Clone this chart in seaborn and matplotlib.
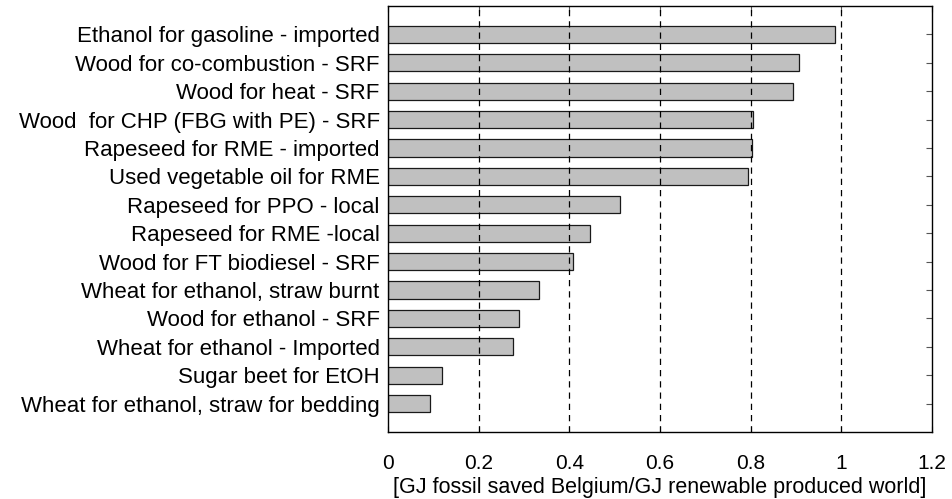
import matplotlib
matplotlib.use("Agg")
import matplotlib.pyplot as plt
import seaborn as sns
import pandas as pd

categories = [
    "Ethanol for gasoline - imported",
    "Wood for co-combustion - SRF",
    "Wood for heat - SRF",
    "Wood  for CHP (FBG with PE) - SRF",
    "Rapeseed for RME - imported",
    "Used vegetable oil for RME",
    "Rapeseed for PPO - local",
    "Rapeseed for RME -local",
    "Wood for FT biodiesel - SRF",
    "Wheat for ethanol, straw burnt",
    "Wood for ethanol - SRF",
    "Wheat for ethanol - Imported",
    "Sugar beet for EtOH",
    "Wheat for ethanol, straw for bedding",
]
values = [0.986, 0.907, 0.894, 0.806, 0.802, 0.794, 0.511, 0.445, 0.407,
          0.333, 0.288, 0.275, 0.120, 0.092]
xticks = [0, 0.2, 0.4, 0.6, 0.8, 1.0, 1.2]
xticklabels = ["0", "0.2", "0.4", "0.6", "0.8", "1", "1.2"]
xlabel = "[GJ fossil saved Belgium/GJ renewable produced world]"

sns.set_style("white")
plt.rcParams["font.family"] = ["Liberation Sans", "DejaVu Sans"]
plt.rcParams["text.color"] = "black"
plt.rcParams["axes.labelcolor"] = "black"
plt.rcParams["xtick.color"] = "black"
plt.rcParams["ytick.color"] = "black"

df = pd.DataFrame({"cat": categories, "val": values})

fig, ax = plt.subplots(figsize=(9.52, 4.99), dpi=100)
fig.subplots_adjust(left=388/952, right=932/952, top=1-6/499, bottom=1-432/499)

sns.barplot(data=df, x="val", y="cat", orient="h", color="#c0c0c0",
            saturation=1, width=0.6, edgecolor="#1a1a1a", linewidth=0.9, ax=ax)

ax.set_xlim(0, 1.2)
ax.set_ylim(len(categories), -1)
ax.set_xticks(xticks)
ax.set_xticklabels(xticklabels, fontsize=15)
ax.set_yticks(range(len(categories)))
ax.set_yticklabels(categories, fontsize=16)
ax.set_ylabel("")
ax.set_xlabel(xlabel, fontsize=15.5, labelpad=3)

for x in xticks[1:-1]:
    ax.axvline(x, color="black", linestyle=(0, (5, 4)), linewidth=0.9, zorder=5)

for s in ax.spines.values():
    s.set_color("black")
    s.set_linewidth(1.0)
    s.set_visible(True)
ax.tick_params(axis="both", direction="in", length=4, width=0.8,
               color="#555555", labelcolor="black",
               top=True, right=True, left=True, bottom=True)
ax.tick_params(axis="y", pad=6)
ax.tick_params(axis="x", pad=16)

fig.savefig("out.png", dpi=100)
